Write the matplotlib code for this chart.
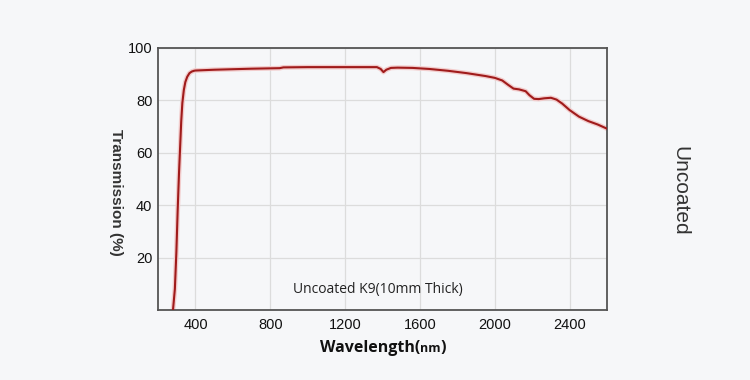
import matplotlib.pyplot as plt

plt.rcParams['font.family'] = ['Liberation Sans', 'DejaVu Sans']

# transmission curve of uncoated K9
wavelength = [280, 290, 298, 305, 312, 318, 324, 330, 338, 346, 356, 368, 380, 392, 400,
              500, 600, 700, 850, 870, 1000, 1200, 1370, 1390, 1405, 1420, 1445, 1480, 1560,
              1650, 1750, 1850, 1950, 2000, 2040, 2070, 2100, 2130, 2165, 2185, 2210, 2235,
              2265, 2300, 2330, 2360, 2400, 2450, 2500, 2550, 2600]
transmission = [0, 8, 22, 38, 52, 62, 72, 79, 84, 87, 89, 90.4, 91.0, 91.3, 91.4,
                91.7, 91.9, 92.1, 92.3, 92.6, 92.7, 92.7, 92.7, 92.0, 90.8, 91.7, 92.4, 92.5, 92.4,
                92.0, 91.3, 90.4, 89.3, 88.6, 87.6, 86.0, 84.5, 84.2, 83.5, 82.0, 80.6, 80.5,
                80.8, 81.0, 80.3, 78.8, 76.3, 73.8, 72.1, 70.8, 69.2]

x_ticks = [400, 800, 1200, 1600, 2000, 2400]
y_ticks = [20, 40, 60, 80, 100]

bg = '#f6f7f9'
fig = plt.figure(figsize=(7.5, 3.8), dpi=100, facecolor=bg)
ax = fig.add_axes([0.2107, 0.1842, 0.5987, 0.6895], facecolor=bg)

ax.plot(wavelength, transmission, color='#f2cccc', lw=3.4, zorder=2)
ax.plot(wavelength, transmission, color='#a01b1b', lw=1.5, zorder=3)

ax.set_xlim(200, 2600)
ax.set_ylim(0, 100)
ax.set_xticks(x_ticks)
ax.set_yticks(y_ticks)
ax.grid(True, color='#dcdcdc', lw=0.9)
ax.set_axisbelow(True)
ax.tick_params(length=0, labelsize=10.5, colors='#111111')
ax.tick_params(axis='x', pad=6)
ax.tick_params(axis='y', pad=4)
for s in ax.spines.values():
    s.set_color('#555555')
    s.set_linewidth(1.3)

ax.text(1376, 8.0, 'Uncoated K9(10mm Thick)', ha='center', va='center',
        fontsize=10, family='Open Sans', color='#222222')

# x label: "Wavelength(" large, "nm" small, ")" large, laid out side by side
fig.canvas.draw()
r = fig.canvas.get_renderer()
parts = [('Wavelength(', 11.5), ('nm', 9), (')', 11.5)]
objs = []
for s, fs in parts:
    objs.append(fig.text(0, 0.073, s, ha='left', va='baseline', fontsize=fs,
                         family='Open Sans', weight='bold', color='#111111'))
widths = [o.get_window_extent(r).width for o in objs]
x0 = 383 - sum(widths) / 2
for o, w in zip(objs, widths):
    o.set_x(x0 / 750)
    x0 += w

fig.text(0.155, 0.495, 'Transmission (%)', rotation=-90, ha='center', va='center',
         fontsize=11, weight='bold', color='#333333')
fig.text(0.906, 0.497, 'Uncoated', rotation=-90, ha='center', va='center',
         fontsize=15, color='#333333')

fig.savefig('out.png', dpi=100, facecolor=bg)
